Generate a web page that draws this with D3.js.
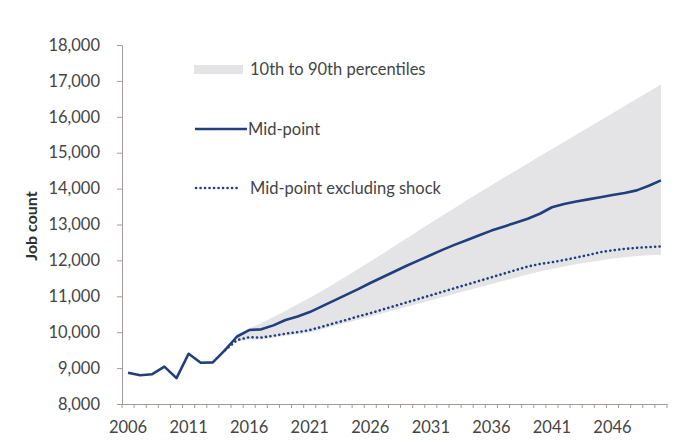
<!DOCTYPE html>
<html>
<head>
<meta charset="utf-8">
<script src="https://cdn.jsdelivr.net/npm/d3@7"></script>
<style>
  html, body { margin: 0; padding: 0; background: #fff; }
  svg { display: block; }
</style>
</head>
<body>
<svg id="chart" width="675" height="443"></svg>
<script>
const years = d3.range(2006, 2051);
const tickYears = [2006, 2011, 2016, 2021, 2026, 2031, 2036, 2041, 2046];
const yTicks = [8000, 9000, 10000, 11000, 12000, 13000, 14000, 15000, 16000, 17000, 18000];

const midPoint = [8870, 8800, 8830, 9040, 8720, 9400, 9150, 9160, 9500, 9880,
  10060, 10080, 10190, 10340, 10440, 10560, 10720, 10880, 11040, 11200,
  11370, 11530, 11690, 11850, 12000, 12150, 12300, 12440, 12570, 12700,
  12830, 12940, 13050, 13160, 13300, 13480, 13570, 13640, 13700, 13760,
  13820, 13880, 13950, 14080, 14230];

// starts in 2014
const exShockYears = d3.range(2014, 2051);
const exShock = [9500, 9780, 9860, 9850, 9900, 9960, 10000, 10060, 10150, 10250,
  10340, 10440, 10530, 10630, 10730, 10830, 10930, 11030, 11130, 11230,
  11330, 11430, 11530, 11630, 11730, 11830, 11900, 11950, 12010, 12080,
  12150, 12230, 12280, 12320, 12350, 12370, 12390];

// band from 2015
const bandYears = d3.range(2015, 2051);
const p90 = [9900, 10100, 10250, 10420, 10600, 10780, 10960, 11150, 11350, 11550,
  11760, 11970, 12180, 12400, 12610, 12830, 13050, 13260, 13470, 13680,
  13890, 14090, 14300, 14500, 14700, 14900, 15100, 15300, 15500, 15700,
  15900, 16100, 16300, 16500, 16700, 16900];
const p10 = [9750, 9800, 9800, 9850, 9900, 9940, 10000, 10080, 10170, 10260,
  10350, 10440, 10530, 10620, 10710, 10800, 10890, 10980, 11070, 11160,
  11250, 11340, 11430, 11520, 11610, 11690, 11760, 11830, 11890, 11950,
  12000, 12050, 12090, 12120, 12140, 12160];

const svg = d3.select("#chart");
const mL = 122, mR = 667, mT = 45, mB = 404;
const font = "Lato, 'Open Sans', sans-serif";
const textColor = "#454545";
const axisColor = "#a89a98";
const lineColor = "#213f7d";
const fs = "16.5px";

const x = d3.scaleBand().domain(years).range([mL, mR]).padding(0);
const xc = d => x(d) + x.bandwidth() / 2;
const y = d3.scaleLinear().domain([8000, 18000]).range([mB, mT]);

// band
const bandData = bandYears.map((yr, i) => ({yr, lo: p10[i], hi: p90[i]}));
svg.append("path")
  .datum(bandData)
  .attr("fill", "#e4e4e7")
  .attr("d", d3.area().x(d => xc(d.yr)).y0(d => y(d.lo)).y1(d => y(d.hi)));

// y axis
const yAxis = svg.append("g")
  .attr("transform", `translate(${mL},0)`)
  .call(d3.axisLeft(y).tickValues(yTicks).tickSize(5).tickPadding(17)
        .tickFormat(d3.format(",")));
yAxis.select(".domain").attr("stroke", axisColor);
yAxis.selectAll(".tick line").attr("stroke", axisColor);
yAxis.selectAll("text").attr("fill", textColor).style("font-family", font).style("font-size", fs);

// x axis
const xAxis = svg.append("g")
  .attr("transform", `translate(0,${mB})`)
  .call(d3.axisBottom(x).tickValues(tickYears).tickSize(0).tickPadding(17));
xAxis.select(".domain").attr("stroke", axisColor);
xAxis.selectAll("text").attr("fill", textColor).style("font-family", font).style("font-size", fs);
// category boundary ticks
xAxis.selectAll(".bt")
  .data(years.map(d => x(d)).concat([mR]))
  .enter().append("line")
  .attr("class", "bt")
  .attr("x1", d => d).attr("x2", d => d)
  .attr("y1", 0).attr("y2", 4)
  .attr("stroke", axisColor);

// excluding shock line
svg.append("path")
  .datum(exShockYears.map((yr, i) => ({yr, v: exShock[i]})))
  .attr("fill", "none")
  .attr("stroke", lineColor)
  .attr("stroke-width", 2.6)
  .attr("stroke-dasharray", "0.1,4.4")
  .attr("stroke-linecap", "round")
  .attr("d", d3.line().x(d => xc(d.yr)).y(d => y(d.v)));

// mid-point line
svg.append("path")
  .datum(years.map((yr, i) => ({yr, v: midPoint[i]})))
  .attr("fill", "none")
  .attr("stroke", lineColor)
  .attr("stroke-width", 2.6)
  .attr("stroke-linejoin", "round")
  .attr("d", d3.line().x(d => xc(d.yr)).y(d => y(d.v)));

// y title
svg.append("text")
  .attr("transform", "translate(37,226) rotate(-90)")
  .attr("text-anchor", "middle")
  .attr("fill", "#2e2e2e")
  .style("font-family", font)
  .style("font-size", "16px")
  .style("font-weight", "bold")
  .text("Job count");

// legend
const lg = svg.append("g");
lg.append("rect").attr("x", 194).attr("y", 65).attr("width", 49).attr("height", 9).attr("fill", "#e4e4e7");
lg.append("text").attr("x", 250).attr("y", 75).text("10th to 90th percentiles");
lg.append("line").attr("x1", 195).attr("x2", 247).attr("y1", 129).attr("y2", 129)
  .attr("stroke", lineColor).attr("stroke-width", 2.6);
lg.append("text").attr("x", 248).attr("y", 135).text("Mid-point");
lg.append("line").attr("x1", 196).attr("x2", 241).attr("y1", 188).attr("y2", 188)
  .attr("stroke", lineColor).attr("stroke-width", 2.6)
  .attr("stroke-dasharray", "0.1,4.4").attr("stroke-linecap", "round");
lg.append("text").attr("x", 250).attr("y", 194).text("Mid-point excluding shock");
lg.selectAll("text").attr("fill", textColor).style("font-family", font).style("font-size", fs);
</script>
</body>
</html>
